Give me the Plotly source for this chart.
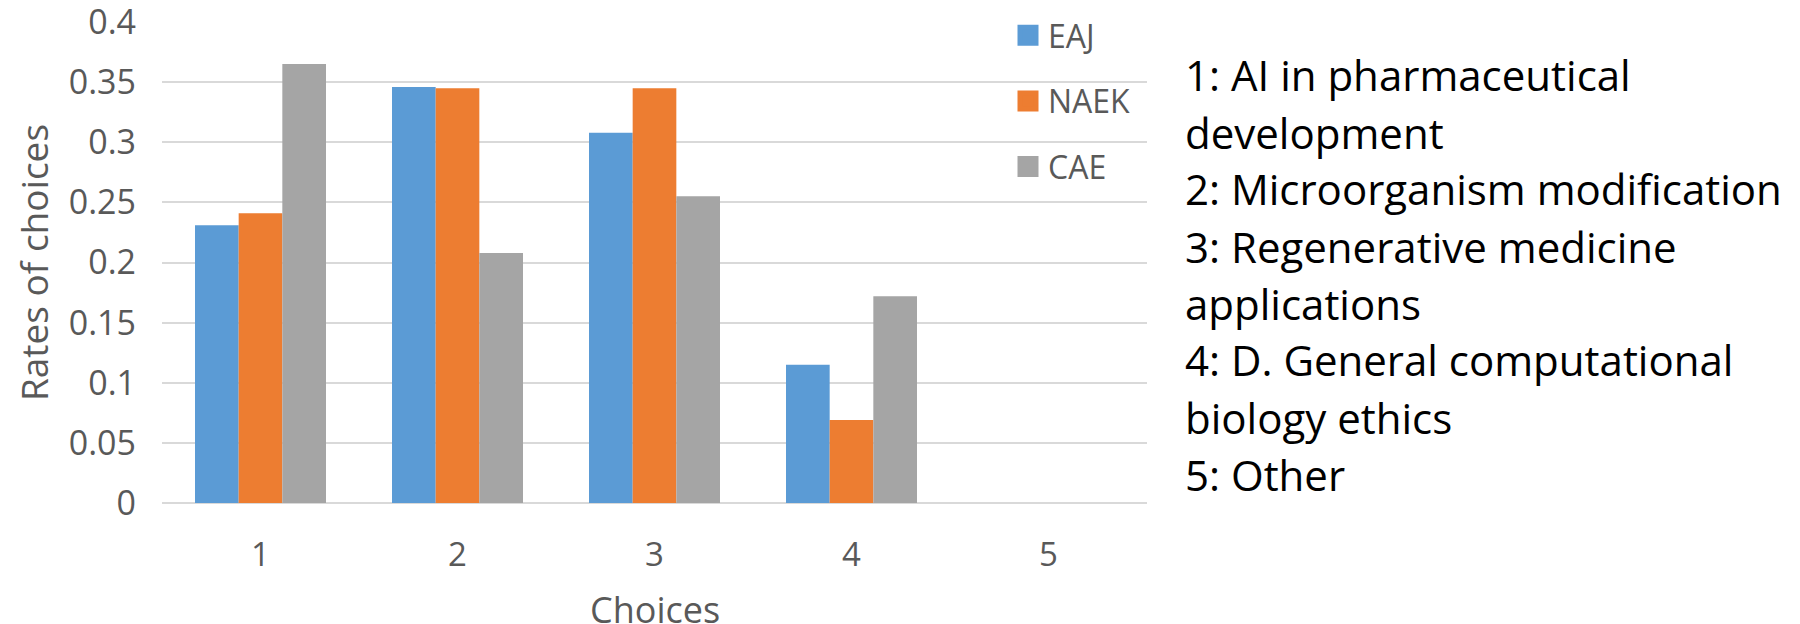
import plotly.graph_objects as go

# ---- data ----
choices = [1, 2, 3, 4, 5]
series_names = ["EAJ", "NAEK", "CAE"]
eaj = [0.231, 0.346, 0.308, 0.115, 0.0]
naek = [0.241, 0.345, 0.345, 0.069, 0.0]
cae = [0.365, 0.208, 0.255, 0.172, 0.0]
y_tick_vals = [0, 0.05, 0.1, 0.15, 0.2, 0.25, 0.3, 0.35, 0.4]
y_tick_text = ["0", "0.05", "0.1", "0.15", "0.2", "0.25", "0.3", "0.35", "0.4"]
x_title = "Choices"
y_title = "Rates of choices"
choice_labels = [
    "1: AI in pharmaceutical",
    "development",
    "2: Microorganism modification",
    "3: Regenerative medicine",
    "applications",
    "4: D. General computational",
    "biology ethics",
    "5: Other",
]
colors = ["#5B9BD5", "#ED7D31", "#A5A5A5"]

# ---- layout geometry (screen pixels); page body adds an 8px offset ----
OFF = 8
W, H = 1800 - OFF, 624 - OFF
L, R, T, B = 162 - OFF, 1147 - OFF, 22 - OFF, 503 - OFF
FONT = "Open Sans"
GREY = "#595959"


def px_x(px):
    return (px - OFF - L) / (R - L)


def px_y(py):
    return (B - (py - OFF)) / (B - T)


fig = go.Figure()
for name, vals, col in zip(series_names, [eaj, naek, cae], colors):
    fig.add_trace(go.Bar(x=choices, y=vals, name=name, marker_color=col,
                         marker_line_width=0, showlegend=False))
# legend entries (bigger square symbols)
for name, col in zip(series_names, colors):
    fig.add_trace(go.Scatter(x=[None], y=[None], mode="markers", name=name,
                             legendgroup=name,
                             marker=dict(symbol="square", size=16, color=col,
                                         line=dict(color=col, width=5))))

# right-hand description text
pitch = 57
for i, line in enumerate(choice_labels):
    fig.add_annotation(text=line, xref="paper", yref="paper",
                       x=px_x(1183), y=px_y(75 + i * pitch),
                       xanchor="left", yanchor="middle", showarrow=False,
                       font=dict(family=FONT, size=42, color="#000000"))

# x-axis title
fig.add_annotation(text=x_title, xref="paper", yref="paper",
                   x=0.5, y=px_y(609), xanchor="center", yanchor="middle",
                   showarrow=False, font=dict(family=FONT, size=36, color=GREY))

fig.update_layout(
    width=W, height=H,
    margin=dict(l=L, r=W - R, t=T, b=H - B, pad=0, autoexpand=False),
    paper_bgcolor="white", plot_bgcolor="white",
    barmode="group", bargap=0.335, bargroupgap=0,
    font=dict(family=FONT, color=GREY),
    legend=dict(x=px_x(1008), y=px_y(8), xanchor="left", yanchor="top",
                bgcolor="rgba(0,0,0,0)", font=dict(family=FONT, size=32, color=GREY),
                tracegroupgap=21, itemsizing="trace"),
    showlegend=True,
)
fig.update_xaxes(range=[0.5, 5.5], tickvals=choices, ticktext=[str(c) for c in choices],
                 automargin=False, ticklabeloverflow="allow",
                 showgrid=False, zeroline=False, showline=False, ticks="",
                 tickfont=dict(family=FONT, size=33, color=GREY), ticklabelstandoff=29)
fig.update_yaxes(range=[0, 0.4], tickvals=y_tick_vals, ticktext=y_tick_text,
                 automargin=False, ticklabeloverflow="allow",
                 showgrid=True, gridcolor="#D9D9D9", gridwidth=2,
                 zeroline=True, zerolinecolor="#D9D9D9", zerolinewidth=2,
                 showline=False, ticks="",
                 tickfont=dict(family=FONT, size=34, color=GREY), ticklabelstandoff=25,
                 title=dict(text=y_title, font=dict(family=FONT, size=37, color=GREY),
                            standoff=12))

fig.write_html("out.html")
